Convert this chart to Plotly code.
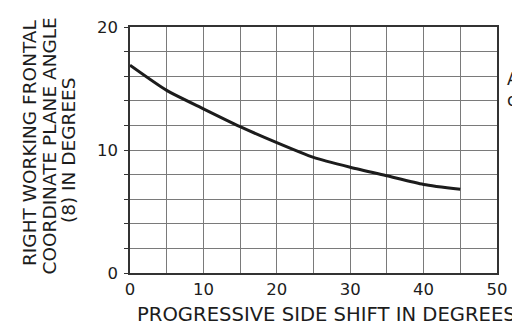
import plotly.graph_objects as go

side_shift = [0, 5, 10, 15, 20, 25, 30, 35, 40, 45]
frontal_angle = [16.9, 14.85, 13.35, 11.9, 10.6, 9.4, 8.6, 7.9, 7.2, 6.8]

x_tickvals = [0, 5, 10, 15, 20, 25, 30, 35, 40, 45, 50]
x_ticktext = ["0", "", "10", "", "20", "", "30", "", "40", "", "50"]
y_tickvals = [0, 2, 4, 6, 8, 10, 12, 14, 16, 18, 20]
y_ticktext = ["0", "", "", "", "", "10", "", "", "", "", "20"]

x_title = "PROGRESSIVE SIDE SHIFT IN DEGREES"
y_title_lines = ["RIGHT WORKING FRONTAL", "COORDINATE PLANE ANGLE", "(8) IN DEGREES"]

font_family = "DejaVu Sans"
ink = "#1c1c1c"

fig = go.Figure()
fig.add_trace(go.Scatter(
    x=side_shift, y=frontal_angle, mode="lines",
    line=dict(color=ink, width=3, shape="spline", smoothing=0.6),
    showlegend=False, hoverinfo="skip",
))

annotations = []
# y title: three rotated lines
for line, dx, dy in zip(y_title_lines, [-100.5, -81, -61.5], [7.5, 3.5, -0.5]):
    annotations.append(dict(
        text=line, xref="paper", yref="paper", x=0, y=0.5, xshift=dx, yshift=dy,
        xanchor="center", yanchor="middle", textangle=-90, showarrow=False,
        font=dict(size=18.5, family=font_family, color=ink)))
# x title
annotations.append(dict(
    text=x_title, xref="paper", yref="paper", x=0.5, y=0, xshift=13, yshift=-41,
    xanchor="center", yanchor="middle", showarrow=False,
    font=dict(size=19.6, family=font_family, color=ink)))
# fragments of neighbouring text at the right edge
annotations.append(dict(text="A", xref="paper", yref="paper", x=1, y=0.788, xshift=8,
                        xanchor="left", yanchor="middle", showarrow=False,
                        font=dict(size=17, family=font_family, color=ink)))
annotations.append(dict(text="c", xref="paper", yref="paper", x=1, y=0.702, xshift=8,
                        xanchor="left", yanchor="middle", showarrow=False,
                        font=dict(size=17, family=font_family, color=ink)))

fig.update_layout(
    width=512, height=317,
    margin=dict(l=122, r=23, t=10, b=52),
    paper_bgcolor="white", plot_bgcolor="white",
    font=dict(family=font_family, size=16, color=ink),
    xaxis=dict(
        range=[0, 50], tickvals=x_tickvals, ticktext=x_ticktext,
        showgrid=True, gridcolor="#7a7a7a", gridwidth=1,
        showline=True, linecolor="#333", linewidth=1.5, mirror=True,
        ticks="", zeroline=False,
        tickfont=dict(size=16.5, family=font_family, color=ink),
    ),
    yaxis=dict(
        range=[0, 20], tickvals=y_tickvals, ticktext=y_ticktext,
        showgrid=True, gridcolor="#7a7a7a", gridwidth=1,
        showline=True, linecolor="#333", linewidth=1.5, mirror=True,
        ticks="outside", ticklen=4, tickcolor="#333", zeroline=False,
        ticklabelstandoff=3,
        tickfont=dict(size=16.5, family=font_family, color=ink),
    ),
    annotations=annotations,
)

fig.write_html("out.html")
